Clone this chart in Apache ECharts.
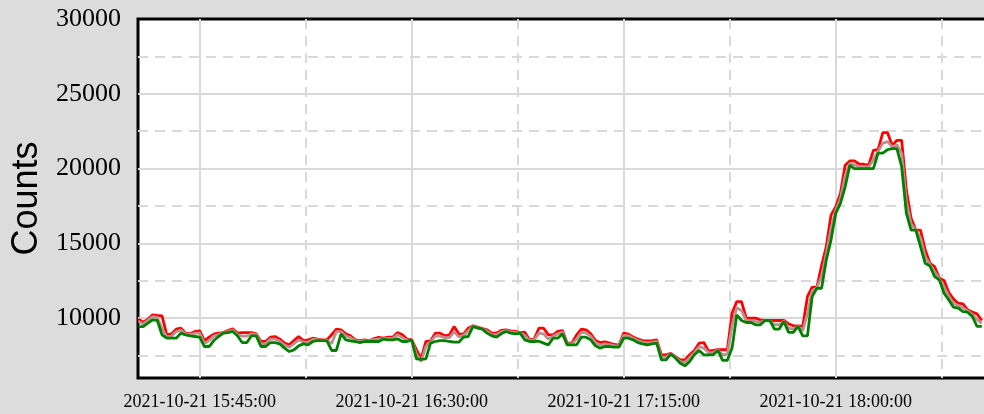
<!DOCTYPE html>
<html>
<head>
<meta charset="utf-8">
<script src="https://cdn.jsdelivr.net/npm/echarts@6/dist/echarts.min.js"></script>
<style>
html,body{margin:0;padding:0;background:#dcdcdc;}
#container{width:984px;height:414px;}
</style>
</head>
<body>
<div id="container"></div>
<script>
// one sample per minute, first one at 15:32
var startMinute = 932;
var redValues = [9930,9710,9930,10220,10180,10150,8890,8950,9260,9330,9000,8950,9110,9150,8500,8730,8930,9000,9040,9175,
	9290,9000,9040,9040,9040,8950,8440,8440,8730,8770,8600,8330,8220,8500,8770,8500,8550,8660,8600,8550,
	8550,8890,9260,9220,8950,8820,8550,8500,8550,8480,8640,8710,8660,8730,8730,9040,8890,8600,8550,7900,
	7300,8440,8480,9000,9000,8820,8885,9440,8950,8930,9330,9490,9400,9310,9220,9000,9000,9175,9220,9150,
	9110,9040,9060,8550,8600,9330,9330,8885,8885,9110,9175,8330,8330,8885,9260,9220,8950,8500,8370,8420,
	8330,8240,8195,9000,8930,8730,8600,8500,8480,8500,8550,7550,7550,7650,7435,7210,7210,7550,7840,8330,
	8370,7800,7840,7890,7890,7890,10330,11110,11110,10000,10000,10000,9890,9845,9845,9845,9845,9845,9620,9490,
	9490,9445,11440,12070,12070,13510,14780,16890,17440,18330,20220,20510,20510,20290,20290,20220,21220,21270,22400,22400,
	21550,21890,21890,18550,16670,15890,15890,14560,13670,13440,12670,12510,11710,11270,11000,10960,10560,10400,10290,9845];
var grayValues = [9800,9600,9850,10100,10050,9300,8750,8800,9100,9200,8950,8900,9000,9000,8300,8500,8800,8900,9020,9100,
	9200,8900,8800,8800,8950,8900,8300,8300,8600,8600,8450,8200,8050,8300,8550,8400,8400,8580,8560,8530,
	8520,8300,9100,9100,8800,8700,8500,8450,8500,8460,8560,8600,8630,8650,8650,8900,8700,8520,8550,7600,
	7100,8100,8420,8800,8800,8700,8700,9100,8750,8850,9150,9470,9370,9290,9120,8920,8900,9080,9170,9080,
	9050,9020,8850,8500,8540,9000,8950,8600,8800,8950,9080,8280,8280,8600,9050,9020,8780,8350,8200,8280,
	8230,8160,8140,8850,8820,8650,8500,8400,8360,8400,8450,7400,7400,7630,7380,7100,7050,7350,7700,8100,
	8000,7700,7700,7870,7550,7600,9500,10700,10500,9850,9850,9780,9720,9845,9845,9560,9560,9810,9330,9270,
	9470,9150,10300,11800,12030,12800,14300,16000,17200,18000,19500,20350,20250,20150,20150,20100,20600,21150,21700,21800,
	21450,21600,21000,17800,16300,15890,15350,14100,13580,13100,12620,12100,11470,11000,10840,10700,10480,10250,9900,9650];
var greenValues = [9440,9440,9665,9890,9845,8885,8660,8660,8660,9000,8885,8820,8775,8730,8105,8105,8505,8775,9000,9040,
	9110,8820,8370,8370,8820,8820,8105,8105,8370,8370,8280,7995,7770,7880,8150,8280,8215,8440,8505,8505,
	8480,7840,7840,8950,8550,8480,8440,8370,8440,8440,8440,8440,8600,8550,8550,8620,8440,8440,8550,7280,
	7250,7280,8330,8440,8505,8505,8440,8395,8395,8730,8775,9440,9330,9265,9000,8820,8730,8950,9110,9000,
	8950,9000,8550,8440,8440,8460,8330,8215,8660,8660,8950,8215,8215,8215,8730,8730,8550,8150,7995,8105,
	8105,8060,8060,8660,8660,8550,8370,8280,8215,8280,8330,7210,7210,7600,7325,6990,6810,7100,7550,7840,
	7550,7550,7550,7840,7180,7180,8000,10220,9845,9710,9710,9555,9555,9845,9845,9270,9270,9780,9045,9045,
	9445,8820,8820,11440,12000,12000,13890,15220,17000,17670,18780,20220,20000,20000,20000,20000,20000,21040,21040,21270,
	21330,21330,20110,17000,15890,15890,14780,13670,13490,12780,12560,11670,11220,10730,10670,10440,10400,10110,9445,9445];

var xMajorTicks = [945, 990, 1035, 1080];          // 15:45 16:30 17:15 18:00
var xMinorTicks = [967.5, 1012.5, 1057.5, 1102.5];
var yLabelTicks = [10000, 15000, 20000, 25000, 30000];
var yMajorTicks = [10000, 15000, 20000, 25000];    // no grid line on the top border
var yMinorTicks = [7500, 12500, 17500, 22500, 27500];

function toPairs(values){
	var out = [];
	for(var i=0;i<values.length;i++){
		out.push([startMinute + i, values[i]]);
	}
	return out;
}
function pad(n){
	return n < 10 ? '0' + n : '' + n;
}
function timeLabel(m){
	return '2021-10-21 ' + pad(Math.floor(m / 60)) + ':' + pad(m % 60) + ':00';
}

var gridColor = '#d9d9d9';
var serif = '"Liberation Serif", "DejaVu Serif", serif';

var option = {
	backgroundColor: '#dcdcdc',
	animation: false,
	grid: {
		left: 138, top: 19, width: 862.6, height: 359,
		outerBoundsMode: 'none', containLabel: false,
		show: true, backgroundColor: '#fff', borderColor: '#000', borderWidth: 3
	},
	xAxis: [
		{
			type: 'value', min: 931.9, max: 1115,
			axisLine: {show: false},
			axisTick: {show: false, customValues: xMajorTicks},
			axisLabel: {
				customValues: xMajorTicks, margin: 15,
				fontFamily: serif, fontSize: 18, color: '#000',
				formatter: function(v){ return timeLabel(v); }
			},
			splitLine: {show: true, lineStyle: {color: gridColor, width: 2}}
		},
		{
			type: 'value', min: 931.9, max: 1115,
			axisLine: {show: false},
			axisTick: {show: false, customValues: xMinorTicks},
			axisLabel: {show: false},
			splitLine: {show: true, lineStyle: {color: gridColor, width: 2, type: [10, 7]}}
		}
	],
	yAxis: [
		{
			type: 'value', min: 6000, max: 30000,
			name: 'Counts', nameLocation: 'middle', nameGap: 88,
			nameTextStyle: {fontFamily: '"Liberation Sans", Arial, sans-serif', fontSize: 36, color: '#000'},
			axisLine: {show: false},
			axisTick: {show: false, customValues: yMajorTicks},
			axisLabel: {
				customValues: yLabelTicks, margin: 17, fontFamily: serif, fontSize: 26, color: '#000',
				formatter: function(v){ return '' + v; }
			},
			splitLine: {show: true, lineStyle: {color: gridColor, width: 2}}
		},
		{
			type: 'value', min: 6000, max: 30000, position: 'left',
			axisLine: {show: false},
			axisTick: {show: false, customValues: yMinorTicks},
			axisLabel: {show: false},
			splitLine: {show: true, lineStyle: {color: gridColor, width: 2, type: [10, 7]}}
		}
	],
	series: [
		{type: 'line', data: toPairs(redValues), showSymbol: false, lineStyle: {color: '#ff0000', width: 2.8}, z: 3},
		{type: 'line', data: toPairs(grayValues), showSymbol: false, lineStyle: {color: '#bc8f8f', width: 2.8}, z: 4},
		{type: 'line', data: toPairs(greenValues), showSymbol: false, lineStyle: {color: '#008000', width: 2.8}, z: 5}
	]
};

var chart = echarts.init(document.getElementById('container'));
chart.setOption(option);
</script>
</body>
</html>
